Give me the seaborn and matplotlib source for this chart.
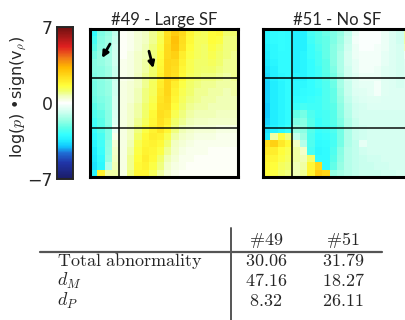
import numpy as np
import pandas as pd
import matplotlib
matplotlib.use("Agg")
import matplotlib.pyplot as plt
import seaborn as sns
from matplotlib.colors import LinearSegmentedColormap

sns.set_style("white")
plt.rcParams["font.family"] = ["DejaVu Sans"]
plt.rcParams["mathtext.fontset"] = "cm"

# ---------------- data ----------------
titles = ["#49 - Large SF", "#51 - No SF"]
vmin, vmax = -7, 7
cbar_ticks = [-7, 0, 7]

abn49 = [
    [-2.9,-1.9,-1.6,-1.0, 0.1,0.2,0.4,0.6,0.9,1.3,2.3,2.8,2.5,1.8,1.4,1.3,1.6,1.7,1.1,1.1],
    [-2.6,-1.8,-1.5,-0.9, 0.1,0.2,0.4,0.6,0.9,1.4,2.4,3.1,2.4,1.7,1.3,1.3,1.6,1.5,1.0,1.0],
    [-2.3,-1.7,-1.5,-0.8, 0.1,0.2,0.4,0.7,1.0,1.5,2.5,3.0,2.3,1.6,1.3,1.2,1.5,1.3,1.0,1.0],
    [-2.0,-1.6,-1.4,-0.8, 0.1,0.3,0.5,0.7,1.0,1.6,2.5,2.7,2.0,1.5,1.3,1.2,1.4,1.2,1.0,0.9],
    [-1.8,-1.6,-1.4,-0.8, 0.2,0.3,0.5,0.8,1.1,1.7,2.6,2.5,1.9,1.4,1.2,1.2,1.3,1.1,0.9,0.9],
    [-1.8,-1.7,-1.5,-0.9, 0.2,0.3,0.5,0.8,1.1,1.8,2.6,2.4,1.8,1.4,1.2,1.1,1.2,1.0,0.9,0.9],
    [-1.9,-1.7,-1.5,-0.9, 0.2,0.3,0.6,0.9,1.2,1.9,2.6,2.3,1.7,1.3,1.1,1.0,1.0,0.9,0.8,0.9],
    [-2.0,-1.8,-1.6,-0.8, 0.3,0.4,0.6,0.9,1.3,2.0,2.6,2.0,1.5,1.2,1.0,0.9,0.9,0.8,0.8,0.8],
    [-2.0,-1.8,-1.6,-0.8, 0.3,0.4,0.7,1.0,1.3,2.1,2.6,1.9,1.4,1.1,0.9,0.9,0.8,0.8,0.7,0.8],
    [-2.1,-1.9,-1.7,-0.7, 0.3,0.4,0.7,1.0,1.4,2.2,2.5,1.8,1.3,1.0,0.9,0.8,0.8,0.7,0.7,0.7],
    [-2.3,-2.0,-1.7,-0.7, 0.3,0.5,0.8,1.1,1.5,2.3,2.4,1.6,1.2,0.9,0.8,0.8,0.7,0.7,0.7,0.7],
    [-2.5,-2.2,-1.8,-0.6, 0.3,0.5,0.8,1.2,1.7,2.4,2.2,1.4,1.0,0.8,0.7,0.7,0.7,0.6,0.6,0.6],
    [-2.7,-2.3,-1.8,-0.5, 0.3,0.5,0.9,1.3,1.8,2.3,2.0,1.2,0.9,0.7,0.6,0.6,0.5,0.5,0.5,0.5],
    [-2.8,-2.4,-1.9,-0.3, 0.3,0.6,1.0,1.5,1.9,2.2,1.8,1.0,0.7,0.5,0.4,0.4,0.4,0.3,0.3,0.3],
    [-3.0,-2.6,-1.9, 0.2, 0.3,0.6,1.2,1.7,2.0,1.9,1.4,0.8,0.5,0.4,0.3,0.3,0.3,0.2,0.2,0.2],
    [-3.2,-2.7,-1.8, 0.4, 0.3,0.7,1.4,1.8,1.9,1.7,1.1,0.6,0.4,0.3,0.2,0.2,0.2,0.2,0.2,0.2],
    [-3.4,-2.8,-1.7, 0.5, 0.3,0.8,1.5,1.9,1.8,1.5,0.9,0.5,0.3,0.2,0.2,0.2,0.1,0.1,0.1,0.1],
    [-3.5,-3.0,-1.6, 0.6, 0.3,0.9,1.6,2.0,1.7,1.2,0.7,0.4,0.2,0.2,0.1,0.1,0.1,0.1,0.1,0.1],
    [-3.6,-3.1,-1.2, 0.7, 0.3,0.9,1.7,1.9,1.5,1.0,0.5,0.3,0.2,0.1,0.1,0.1,0.1,0.1,0.1,0.1],
    [-3.2, 1.9, 0.8, 0.8, 0.3,1.0,1.8,1.8,1.3,0.8,0.4,0.2,0.1,0.1,0.1,0.1,0.1,0.1,0.1,0.1],
]

abn51 = [
    [-3.2,-3.0,-2.9,-3.0,-3.3,-3.3,-2.6,-2.4,-2.1,-1.9,-1.6,-1.0,-0.3,-0.1,-0.1,-0.1,-0.3,-0.6,-0.8, 0.8],
    [-3.2,-3.0,-2.9,-3.0,-3.3,-3.3,-2.7,-2.4,-2.2,-1.9,-1.5,-0.9,-0.2,-0.1,-0.1,-0.1,-0.3,-0.6,-0.8, 0.8],
    [-3.3,-3.1,-2.9,-3.0,-3.3,-3.3,-2.8,-2.5,-2.2,-1.8,-1.4,-0.8,-0.3,-0.1,-0.1,-0.2,-0.3,-0.6,-0.7, 0.6],
    [-3.4,-3.1,-3.0,-3.0,-3.3,-3.2,-2.8,-2.6,-2.2,-1.8,-1.3,-0.7,-0.3,-0.2,-0.2,-0.2,-0.4,-0.6,-0.7,-0.3],
    [-3.5,-3.2,-3.0,-3.0,-3.3,-3.2,-2.9,-2.6,-2.3,-1.8,-1.3,-0.7,-0.4,-0.2,-0.2,-0.2,-0.4,-0.6,-0.7,-0.5],
    [-3.6,-3.3,-3.0,-3.0,-3.3,-3.2,-2.9,-2.7,-2.3,-1.9,-1.3,-0.8,-0.4,-0.2,-0.2,-0.3,-0.5,-0.6,-0.7,-0.6],
    [-3.7,-3.3,-3.1,-3.0,-3.2,-3.2,-2.9,-2.7,-2.4,-2.0,-1.4,-0.8,-0.5,-0.3,-0.3,-0.3,-0.5,-0.6,-0.7,-0.6],
    [-3.8,-3.4,-3.2,-3.0,-3.1,-3.1,-2.9,-2.7,-2.5,-2.1,-1.4,-0.9,-0.5,-0.4,-0.4,-0.2,-0.5,-0.6,-0.7,-0.6],
    [-3.8,-3.4,-3.2,-3.0,-3.1,-3.0,-2.9,-2.8,-2.5,-2.2,-1.5,-0.9,-0.6,-0.5,-0.4,-0.2,-0.5,-0.6,-0.6,-0.6],
    [-3.8,-3.4,-3.2,-3.0,-3.0,-2.9,-2.8,-2.7,-2.5,-2.2,-1.6,-1.0,-0.7,-0.6,-0.5,-0.5,-0.6,-0.6,-0.6,-0.6],
    [-3.9,-3.4,-3.2,-3.0,-2.8,-2.6,-2.7,-2.7,-2.5,-2.3,-1.7,-1.1,-0.8,-0.7,-0.6,-0.6,-0.6,-0.6,-0.6,-0.6],
    [-3.9,-3.4,-3.2,-3.0,-2.2,-2.0,-2.5,-2.7,-2.6,-2.4,-1.8,-1.2,-0.8,-0.7,-0.7,-0.7,-0.7,-0.7,-0.7,-0.7],
    [-3.8,-3.4,-3.2,-3.0,-1.9,-1.8,-2.4,-2.8,-2.6,-2.4,-1.9,-1.3,-0.9,-0.7,-0.7,-0.7,-0.7,-0.7,-0.7,-0.7],
    [-3.6,-3.3,-3.1,-2.8,-1.6,-1.7,-2.4,-2.8,-2.7,-2.5,-2.0,-1.3,-0.9,-0.8,-0.7,-0.7,-0.7,-0.7,-0.7,-0.7],
    [-3.4, 0.8, 1.5, 1.0,-1.0,-1.5,-2.5,-2.9,-2.8,-2.6,-2.0,-1.3,-0.9,-0.8,-0.7,-0.7,-0.7,-0.7,-0.7,-0.7],
    [ 2.4, 2.7, 2.1, 1.7, 0.6,-1.2,-2.5,-3.0,-2.9,-2.6,-2.0,-1.3,-1.0,-0.4,-0.7,-0.7,-0.7,-0.7,-0.7,-0.7],
    [ 2.1, 2.0, 1.6, 1.4, 0.8, 0.5,-2.6,-3.1,-3.0,-2.5,-1.8,-1.2,-1.0,-0.8,-0.7,-0.7,-0.7,-0.7,-0.7,-0.7],
    [ 1.9, 1.8, 1.5, 1.3, 0.8, 0.7, 1.2,-3.0,-3.0,-2.4,-1.7,-1.2,-1.0,-0.9,-0.8,-0.8,-0.7,-0.7,-0.7,-0.7],
    [ 1.8, 1.6, 1.3, 1.1, 0.7, 0.8, 1.8, 2.5,-3.0,-2.2,-1.6,-1.2,-1.0,-0.9,-0.9,-0.8,-0.8,-0.7,-0.7,-0.7],
    [ 1.6, 1.5, 1.2, 1.0, 0.7, 0.9, 1.9, 2.8, 2.6,-1.6,-1.4,-1.2,-1.0,-0.9,-0.9,-0.9,-0.8,-0.8,-0.7,-0.7],
]

table_rows = [r"$\mathrm{Total\ abnormality}$", r"$d_M$", r"$d_P$"]
table_cols = [r"$\#49$", r"$\#51$"]
col49 = ["30.06", "47.16", "8.32"]
col51 = ["31.79", "18.27", "26.11"]

# ---------------- colormap ----------------
nodes = [(-7, "#1b1c66"), (-5.5, "#2035a8"), (-4.6, "#1f6fd6"), (-4.0, "#10c8ff"),
         (-3.4, "#22f0ff"), (-2.9, "#34ffff"), (-2.3, "#5cffe8"), (-1.6, "#98ffe4"),
         (-0.8, "#d0fff0"), (-0.3, "#ecfff6"), (0, "#ffffff"), (0.3, "#f6ffe2"),
         (0.7, "#f0ffb4"), (1.1, "#f0ff70"), (1.6, "#ffff3c"), (2.1, "#ffea28"),
         (2.7, "#ffd214"), (3.3, "#ffb800"), (4.2, "#f07818"), (5.2, "#e02020"),
         (6.2, "#a01818"), (7, "#701010")]
cmap = LinearSegmentedColormap.from_list(
    "abn", [((v - vmin) / (vmax - vmin), c) for v, c in nodes])

# ---------------- figure ----------------
W, H = 406, 320
fig = plt.figure(figsize=(W / 100, H / 100), dpi=100)

def fr(x0, y0, x1, y1):
    return [x0 / W, 1 - y1 / H, (x1 - x0) / W, (y1 - y0) / H]

cax = fig.add_axes(fr(57, 27, 73, 179))
ax1 = fig.add_axes(fr(90, 29, 238, 177))
ax2 = fig.add_axes(fr(263, 29, 411, 177))

for i, (ax, mat, title) in enumerate(zip([ax1, ax2], [abn49, abn51], titles)):
    df = pd.DataFrame(mat)
    sns.heatmap(df, ax=ax, cmap=cmap, vmin=vmin, vmax=vmax,
                cbar=(i == 0), cbar_ax=cax if i == 0 else None,
                xticklabels=False, yticklabels=False)
    n = df.shape[0]
    ax.axvline(n * 0.196, color="black", lw=1.1)
    ax.axhline(n / 3, color="black", lw=1.1)
    ax.axhline(2 * n / 3, color="black", lw=1.3, alpha=0.8)
    for s in ax.spines.values():
        s.set_visible(True)
        s.set_linewidth(2.2)
        s.set_color("black")
    ax.set_title(title, fontsize=12, pad=3, family=["Lato", "DejaVu Sans"])

# arrows on panel #49
arrow_kw = dict(arrowstyle="-|>", color="black", lw=2, mutation_scale=9,
                shrinkA=0, shrinkB=0)
ax1.annotate("", xy=(1.62, 3.92), xytext=(2.70, 2.03), arrowprops=arrow_kw)
ax1.annotate("", xy=(8.55, 5.3), xytext=(7.97, 3.0), arrowprops=arrow_kw)

# colorbar styling
cax.set_yticks(cbar_ticks)
cax.set_yticklabels(["\u22127", "0", "7"])
cax.yaxis.set_ticks_position("left")
cax.yaxis.set_label_position("left")
cax.tick_params(length=0, labelsize=12.5, pad=3)
for s in cax.spines.values():
    s.set_visible(True)
    s.set_linewidth(1.2)
fig.text(19 / W, 1 - 97 / H, "log($p$) \u2022sign(v$_\\rho$)",
         rotation=90, ha="center", va="center", fontsize=11.5)

# ---------------- table ----------------
tab = fig.add_axes([0, 0, 1, 1], facecolor="none")
tab.set_xlim(0, W)
tab.set_ylim(H, 0)
tab.axis("off")
tab.plot([40, 382], [252, 252], color="#555555", lw=1.6)
tab.plot([231, 231], [228, 320], color="#555555", lw=1.4)
col_x = [266, 343]
tfs = 13
for cx, lab in zip(col_x, table_cols):
    tab.text(cx, 240, lab, ha="center", va="center", fontsize=tfs)
row_y = [261, 281, 301]
for ry, lab, a, b in zip(row_y, table_rows, col49, col51):
    tab.text(57, ry, lab, ha="left", va="center", fontsize=tfs)
    tab.text(col_x[0], ry, r"$\mathrm{%s}$" % a, ha="center", va="center", fontsize=tfs)
    tab.text(col_x[1], ry, r"$\mathrm{%s}$" % b, ha="center", va="center", fontsize=tfs)

fig.savefig("out.png", dpi=100)
